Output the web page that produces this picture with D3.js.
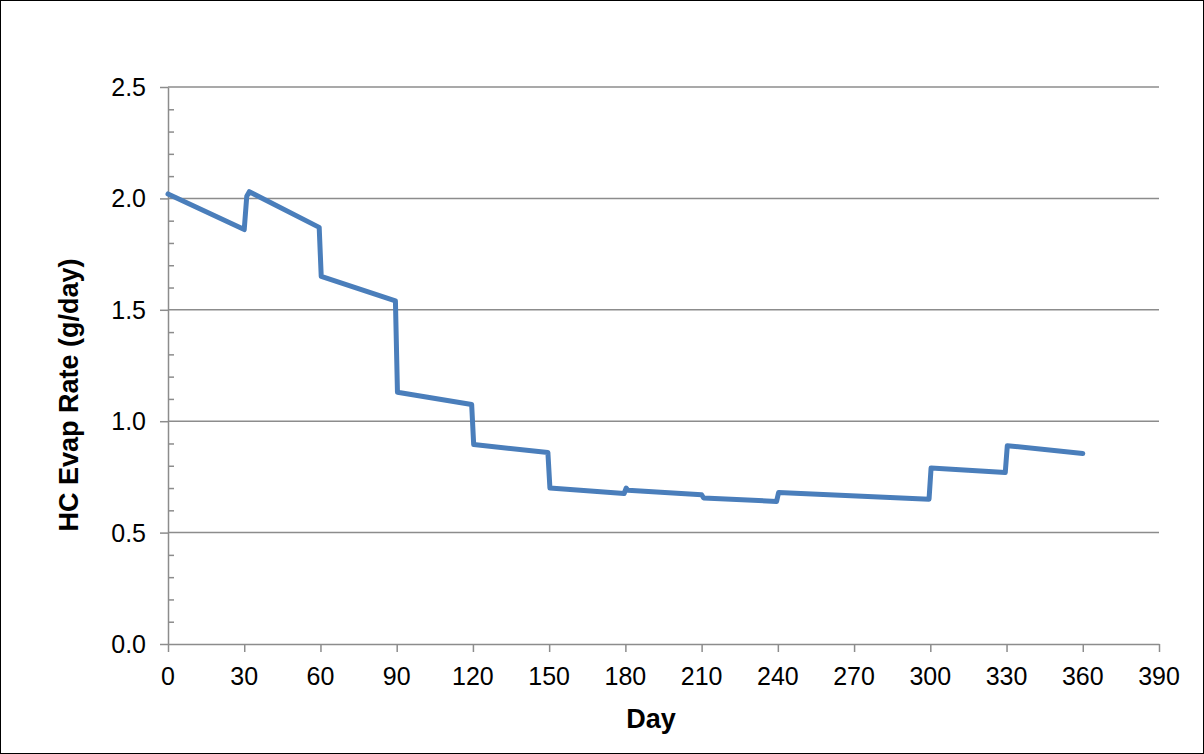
<!DOCTYPE html>
<html><head><meta charset="utf-8">
<script src="https://cdn.jsdelivr.net/npm/d3@7"></script>
<style>body{margin:0;background:#fff}</style></head>
<body><svg id="c" width="1204" height="754"></svg>
<script>
const days = [0,30,31,32,59.5,60.3,89.5,90.3,119.5,120.3,149.5,150.3,179.5,180.3,181,210,210.8,239.5,240.3,299.5,300.3,329.5,330.3,360];
const rates = [2.02,1.86,2.01,2.03,1.87,1.65,1.54,1.13,1.075,0.895,0.86,0.70,0.675,0.70,0.69,0.67,0.655,0.64,0.68,0.65,0.79,0.77,0.89,0.855];
const xTicks = d3.range(0,391,30);
const yTicks = [0,0.5,1.0,1.5,2.0,2.5];

const svg = d3.select("#c");
svg.append("rect").attr("x",0.5).attr("y",0.5).attr("width",1203).attr("height",753).attr("fill","none").attr("stroke","#000");
const x = d3.scaleLinear().domain([0,390]).range([168,1159]);
const y = d3.scaleLinear().domain([0,2.5]).range([644,87]);
const font = "Arial, 'Liberation Sans', sans-serif";

svg.append("g").selectAll("line").data(yTicks.slice(1)).join("line")
  .attr("x1",168).attr("x2",1159).attr("y1",d=>y(d)).attr("y2",d=>y(d)).attr("stroke","#8c8c8c").attr("stroke-width",1.5);

// minor ticks (inside)
const ym = svg.append("g").attr("transform","translate(168,0)")
  .call(d3.axisRight(y).tickValues(d3.range(0,26).filter(i=>i%5).map(i=>i/10)).tickSize(6).tickFormat(""));
ym.select(".domain").remove();
ym.selectAll("line").attr("stroke","#8c8c8c").attr("stroke-width",1.5);
const ya = svg.append("g").attr("transform","translate(168,0)")
  .call(d3.axisLeft(y).tickValues(yTicks).tickSize(8).tickSizeOuter(0).tickFormat(""));
ya.select(".domain").attr("stroke","#8c8c8c").attr("stroke-width",1.5);
ya.selectAll("line").attr("stroke","#8c8c8c").attr("stroke-width",1.5);
svg.append("g").selectAll("text").data(yTicks).join("text")
  .attr("x",146).attr("y",d=>y(d)+9).attr("text-anchor","end")
  .attr("font-family",font).attr("font-size",25).text(d=>d.toFixed(1));

const xa = svg.append("g").attr("transform","translate(0,644)")
  .call(d3.axisBottom(x).tickValues(xTicks).tickSize(8).tickSizeOuter(0).tickFormat(""));
xa.select(".domain").attr("stroke","#8c8c8c").attr("stroke-width",1.5);
xa.selectAll("line").attr("stroke","#8c8c8c").attr("stroke-width",1.5);
svg.append("g").selectAll("text").data(xTicks).join("text")
  .attr("x",d=>x(d)).attr("y",685).attr("text-anchor","middle")
  .attr("font-family",font).attr("font-size",25).text(d=>d);

svg.append("text").attr("x",651).attr("y",728).attr("text-anchor","middle")
  .attr("font-family",font).attr("font-size",27).attr("font-weight","bold").text("Day");
svg.append("text").attr("transform","translate(78,395) rotate(-90)").attr("text-anchor","middle")
  .attr("font-family",font).attr("font-size",27).attr("font-weight","bold").text("HC Evap Rate (g/day)");

svg.append("path").datum(days.map((d,i)=>[d,rates[i]]))
  .attr("d",d3.line().x(d=>x(d[0])).y(d=>y(d[1])))
  .attr("fill","none").attr("stroke","#4a7ebb").attr("stroke-width",5).attr("stroke-linejoin","round").attr("stroke-linecap","round");
</script></body></html>
